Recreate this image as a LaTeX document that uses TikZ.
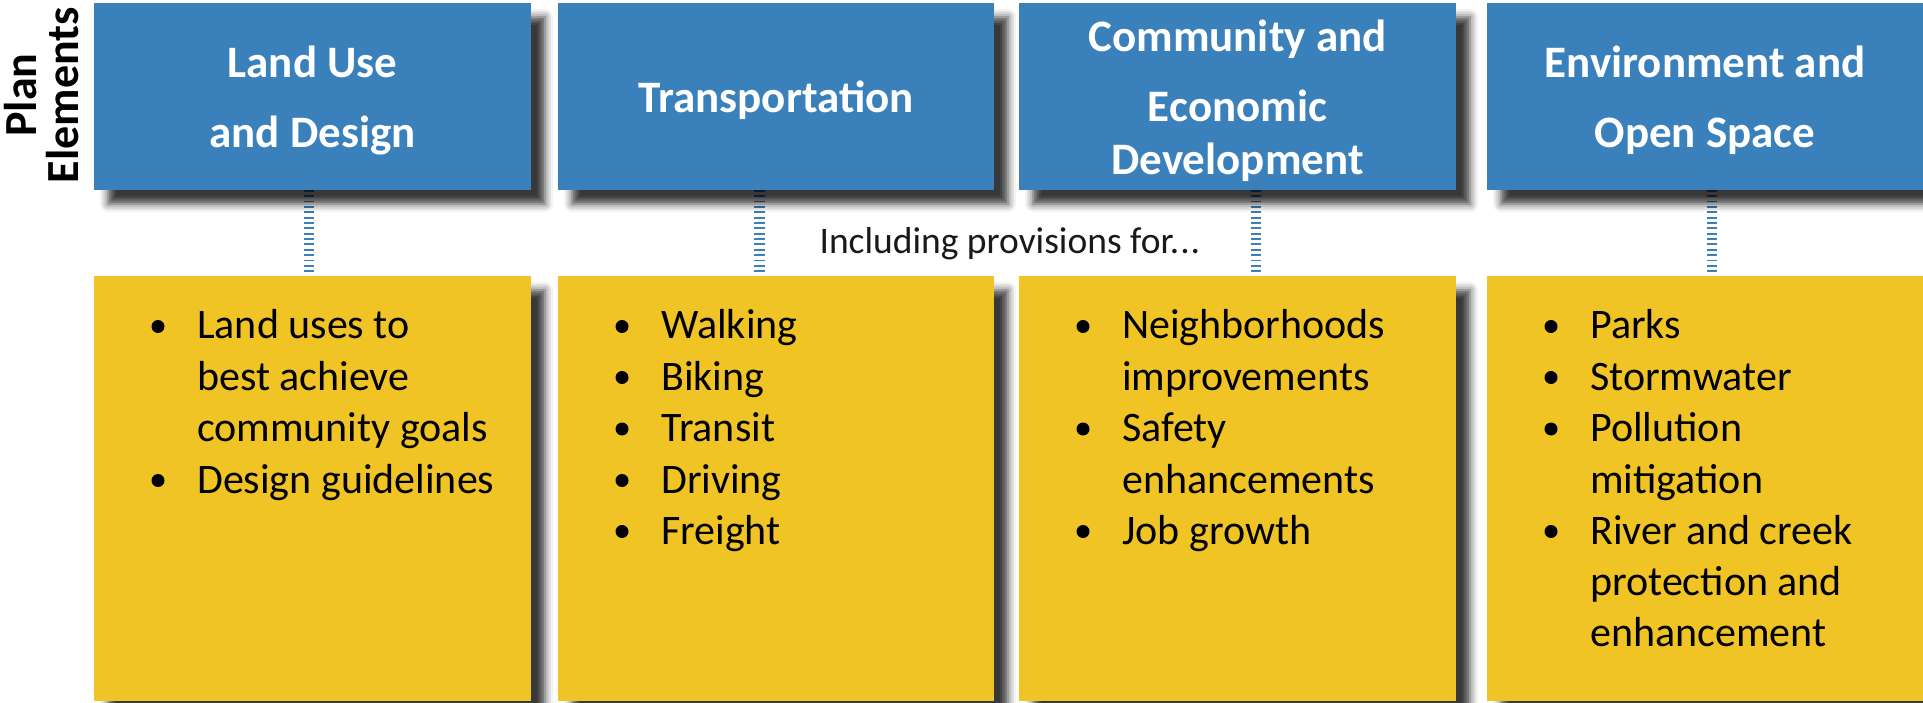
\documentclass[tikz,border=0pt]{standalone}
\usepackage{fontspec}
\setmainfont{Carlito}
\usetikzlibrary{shadows.blur}
\definecolor{hdrblue}{HTML}{3A80BA}
\definecolor{bodyyellow}{HTML}{F1C425}
\newcommand\bline[4]{\node[bodytxt] (#1) at (#2,#3) {#4};}
\newcommand\bdot[3]{\node[bulletdot] (#1) at (#2,#3) {};}
\begin{document}
\begin{tikzpicture}[x=1pt,y=-1pt,
  boxshadow/.style={blur shadow={shadow xshift=14pt, shadow yshift=-14pt, shadow blur radius=8pt, shadow opacity=78}},
  hdrbox/.style={rectangle, fill=hdrblue, draw=none, minimum width=#1, minimum height=187pt, inner sep=0pt, outer sep=0pt, anchor=north west, boxshadow},
  listbox/.style={rectangle, fill=bodyyellow, draw=none, minimum width=#1, minimum height=425pt, inner sep=0pt, outer sep=0pt, anchor=north west, boxshadow},
  hdrtxt/.style={text=white, font=\bfseries\fontsize{45}{54}\selectfont, inner sep=0pt, anchor=base},
  sidetxt/.style={text=black, font=\bfseries\fontsize{46}{54}\selectfont, inner sep=0pt, anchor=base, rotate=90},
  bodytxt/.style={text=black, font=\fontsize{42}{51}\selectfont, inner sep=0pt, anchor=base west},
  bulletdot/.style={circle, fill=black, draw=none, minimum size=13pt, inner sep=0pt},
  notetxt/.style={text=black!90, font=\fontsize{37.5}{44}\selectfont, inner sep=0pt, anchor=base},
  conn/.style={draw=hdrblue, line width=10.7pt, dash pattern=on 1.8pt off 3.55pt}
]
\useasboundingbox (0,0) rectangle (1923,703);

% side label
\node[sidetxt] (plan) at (36,95) {Plan};
\node[sidetxt] (elem) at (78,95) {Elements};

% anchor points on the box edges for the connectors
\coordinate (h1s) at (312.5,190); \coordinate (y1n) at (312.5,276);
\coordinate (h2s) at (776,190);   \coordinate (y2n) at (776,276);
\coordinate (h3s) at (1237.5,190);\coordinate (y3n) at (1237.5,276);
\coordinate (h4s) at (1705,190);  \coordinate (y4n) at (1705,276);

% connectors (behind boxes and shadows)
\draw[conn] ([xshift=-3.5pt]h1s) -- ([xshift=-3.5pt]y1n);
\draw[conn] ([xshift=-16.5pt]h2s) -- ([xshift=-16.5pt]y2n);
\draw[conn] ([xshift=18.5pt]h3s) -- ([xshift=18.5pt]y3n);
\draw[conn] ([xshift=7pt]h4s) -- ([xshift=7pt]y4n);

% yellow list boxes
\node[listbox=437pt] (y1) at (94,276) {};
\node[listbox=436pt] (y2) at (558,276) {};
\node[listbox=437pt] (y3) at (1019,276) {};
\node[listbox=436pt] (y4) at (1487,276) {};

% blue header boxes
\node[hdrbox=437pt] (h1) at (94,3) {};
\node[hdrbox=436pt] (h2) at (558,3) {};
\node[hdrbox=437pt] (h3) at (1019,3) {};
\node[hdrbox=436pt] (h4) at (1487,3) {};

% header texts
\node[hdrtxt] (h1a) at (312.5,78) {Land Use};
\node[hdrtxt] (h1b) at (312.5,148) {and Design};
\node[hdrtxt] (h2a) at (776,113) {Transportation};
\node[hdrtxt] (h3a) at (1237.5,52) {Community and};
\node[hdrtxt] (h3b) at (1237.5,122) {Economic};
\node[hdrtxt] (h3c) at (1237.5,175) {Development};
\node[hdrtxt] (h4a) at (1705,78) {Environment and};
\node[hdrtxt] (h4b) at (1705,148) {Open Space};

% middle note
\node[notetxt] (note) at (1010,254) {Including provisions for.\kern1pt.\kern1pt.};

% list 1
\bdot{d1a}{158}{326.5}
\bline{t1a}{197}{339}{Land uses to}
\bline{t1b}{197}{390}{best achieve}
\bline{t1c}{197}{441.5}{community goals}
\bdot{d1b}{158}{480.5}
\bline{t1d}{197}{493}{Design guidelines}

% list 2
\bdot{d2a}{622}{326.5}
\bline{t2a}{661}{339}{Walking}
\bdot{d2b}{622}{377.5}
\bline{t2b}{661}{390}{Biking}
\bdot{d2c}{622}{429}
\bline{t2c}{661}{441.5}{Transit}
\bdot{d2d}{622}{480.5}
\bline{t2d}{661}{493}{Driving}
\bdot{d2e}{622}{531.5}
\bline{t2e}{661}{544}{Freight}

% list 3
\bdot{d3a}{1083}{326.5}
\bline{t3a}{1122}{339}{Neighborhoods}
\bline{t3b}{1122}{390}{improvements}
\bdot{d3b}{1083}{429}
\bline{t3c}{1122}{441.5}{Safety}
\bline{t3d}{1122}{493}{enhancements}
\bdot{d3c}{1083}{531.5}
\bline{t3e}{1122}{544}{Job growth}

% list 4
\bdot{d4a}{1551}{326.5}
\bline{t4a}{1590}{339}{Parks}
\bdot{d4b}{1551}{377.5}
\bline{t4b}{1590}{390}{Stormwater}
\bdot{d4c}{1551}{429}
\bline{t4c}{1590}{441.5}{Pollution}
\bline{t4d}{1590}{493}{mitigation}
\bdot{d4d}{1551}{531.5}
\bline{t4e}{1590}{544}{River and creek}
\bline{t4f}{1590}{595}{protection and}
\bline{t4g}{1590}{646.5}{enhancement}
\end{tikzpicture}
\end{document}
